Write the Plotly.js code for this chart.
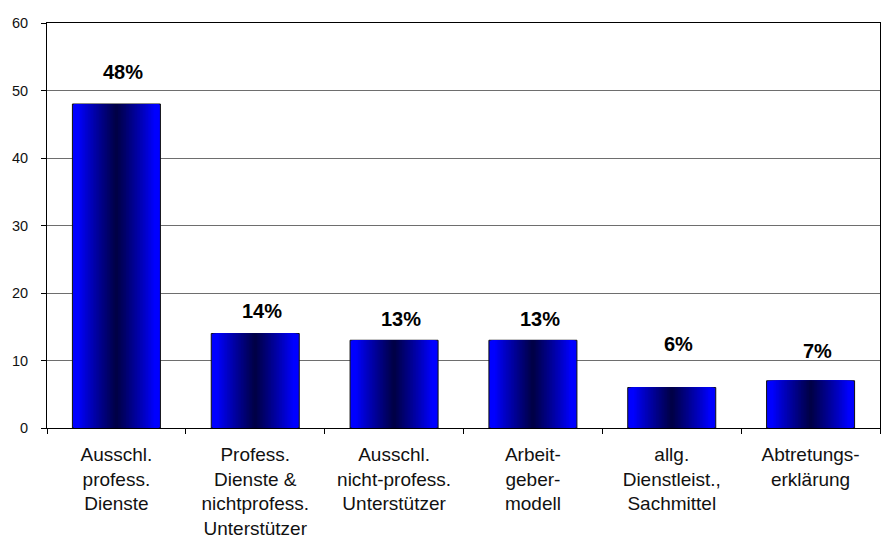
<!DOCTYPE html>
<html>
<head>
<meta charset="utf-8">
<script src="https://cdn.plot.ly/plotly-3.0.1.min.js"></script>
<style>html,body{margin:0;padding:0;background:#fff;}#chart{width:882px;height:547px;}</style>
</head>
<body>
<div id="chart"></div>
<script>
// ---- data ----
const categories = [
  "Ausschl.<br>profess.<br>Dienste",
  "Profess.<br>Dienste &<br>nichtprofess.<br>Unterstützer",
  "Ausschl.<br>nicht-profess.<br>Unterstützer",
  "Arbeit-<br>geber-<br>modell",
  "allg.<br>Dienstleist.,<br>Sachmittel",
  "Abtretungs-<br>erklärung"
];
const values = [48, 14, 13, 13, 6, 7];
const percentLabels = ["48%", "14%", "13%", "13%", "6%", "7%"];
const yTickValues = [0, 10, 20, 30, 40, 50, 60];

// ---- layout / styling ----
const barWidth = 0.634;
const layers = 28;
const traces = [];
for (let i = 0; i < layers; i++) {
  const f = i / layers;               // 0 at edges -> ~1 at center
  let t = Math.max(0, (f - 0.12) / 0.88);
  t = Math.pow(t, 0.9);
  const b = Math.round(255 - t * (255 - 64));
  traces.push({
    type: 'bar',
    x: categories,
    y: values,
    width: barWidth * (1 - f),
    marker: {
      color: `rgb(0,0,${b})`,
      line: i === 0 ? {color: '#111', width: 1} : {width: 0}
    },
    hoverinfo: 'skip',
    showlegend: false
  });
}

// label heights above bars (layout only)
const labelHeights = [52.7, 17.3, 16.1, 16.1, 12.4, 11.4];
const annotations = percentLabels.map((txt, i) => ({
  x: categories[i], y: labelHeights[i], xref: 'x', yref: 'y',
  text: '<b>' + txt + '</b>', showarrow: false, xshift: 7,
  font: {family: 'Liberation Sans, Arial, sans-serif', size: 20, color: '#000'}
}));

const layout = {
  width: 882, height: 547,
  margin: {l: 47, r: 2, t: 23, b: 119},
  paper_bgcolor: '#fff', plot_bgcolor: '#fff',
  barmode: 'overlay',
  font: {family: 'Liberation Sans, Arial, sans-serif', color: '#000'},
  xaxis: {
    type: 'category',
    showline: true, linecolor: '#000', linewidth: 1, mirror: true,
    ticks: 'outside', ticklen: 5, tickcolor: '#000', tickson: 'boundaries',
    tickfont: {size: 19, color: '#111'},
    ticklabelstandoff: 9,
    showgrid: false, zeroline: false
  },
  yaxis: {
    range: [0, 60],
    tickvals: yTickValues,
    showline: true, linecolor: '#000', linewidth: 1, mirror: true,
    ticks: 'outside', ticklen: 5, tickcolor: '#000',
    tickfont: {size: 14.5, color: '#111'},
    ticklabelstandoff: 10,
    showgrid: true, gridcolor: '#6e6e6e', gridwidth: 1,
    zeroline: false
  },
  annotations: annotations
};

Plotly.newPlot('chart', traces, layout, {displayModeBar: false, staticPlot: true});
</script>
</body>
</html>
